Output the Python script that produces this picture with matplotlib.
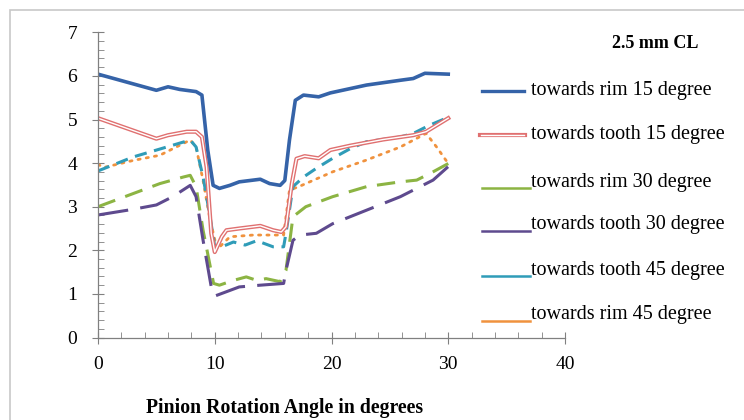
import matplotlib
matplotlib.use("Agg")
import matplotlib.pyplot as plt
from matplotlib.lines import Line2D
from matplotlib.patches import Rectangle
from matplotlib.ticker import MultipleLocator

plt.rcParams['font.family'] = ['Liberation Serif', 'DejaVu Serif']

# towards rim 15 degree
x_rim15 = [0, 5, 6, 7, 8.4, 8.9, 9.4, 9.86, 10.4, 11.3, 12.1, 13.9, 14.7, 15.6, 16.0, 16.4, 16.9, 17.6, 18.9, 19.9, 23, 25.9, 27, 28, 30]
y_rim15 = [6.04, 5.67, 5.75, 5.69, 5.64, 5.56, 4.3, 3.49, 3.42, 3.49, 3.57, 3.63, 3.53, 3.49, 3.6, 4.53, 5.44, 5.56, 5.52, 5.61, 5.79, 5.90, 5.94, 6.06, 6.04]

# towards tooth 15 degree
x_tooth15 = [0, 5, 6, 7.6, 8.4, 8.9, 9.3, 9.7, 10, 10.6, 11, 12.1, 13.9, 15, 15.7, 16.1, 16.6, 17, 17.7, 18.9, 19.9, 21.6, 24.4, 27, 28.1, 30]
y_tooth15 = [5.03, 4.56, 4.64, 4.72, 4.72, 4.6, 3.91, 2.39, 1.96, 2.31, 2.46, 2.5, 2.56, 2.46, 2.42, 2.54, 3.53, 4.1, 4.16, 4.11, 4.3, 4.4, 4.54, 4.64, 4.72, 5.03]

# towards rim 30 degree
x_rim30 = [0, 3, 5.3, 7.3, 7.9, 8.4, 9, 9.9, 10.4, 11.6, 12.7, 13.6, 14.4, 15.6, 16.1, 16.7, 17.8, 20.1, 23, 25.9, 27.3, 28.7, 30]
y_rim30 = [3.0, 3.3, 3.53, 3.68, 3.72, 3.46, 2.46, 1.24, 1.2, 1.31, 1.39, 1.31, 1.35, 1.28, 1.54, 2.77, 3.0, 3.23, 3.46, 3.57, 3.61, 3.8, 3.99]

# towards tooth 30 degree
x_tooth30 = [0, 3, 5, 6.4, 7.9, 8.4, 9, 9.7, 10, 11, 12.1, 13.9, 15.9, 16.1, 16.7, 17.3, 18.7, 20.1, 23, 25.9, 28.7, 30]
y_tooth30 = [2.81, 2.94, 3.04, 3.23, 3.49, 3.23, 2.23, 1.16, 0.95, 1.05, 1.16, 1.2, 1.24, 1.54, 2.23, 2.35, 2.39, 2.61, 2.92, 3.23, 3.61, 3.92]

# towards tooth 45 degree
x_tooth45 = [0, 3, 5.9, 7.9, 8.4, 9, 9.6, 10, 10.6, 11.6, 12.6, 13.6, 15, 15.9, 16.1, 16.7, 17.6, 18.7, 20.1, 21.6, 23, 25.9, 27, 28.4, 30]
y_tooth45 = [3.82, 4.14, 4.37, 4.53, 4.37, 3.68, 2.77, 2.08, 2.08, 2.19, 2.12, 2.22, 2.08, 2.08, 2.39, 3.46, 3.68, 3.88, 4.11, 4.33, 4.49, 4.6, 4.68, 4.87, 5.05]

# towards rim 45 degree
x_rim45 = [0, 0.5, 3, 5.3, 7.9, 8.4, 9, 9.6, 10.2, 11.3, 13.3, 15.9, 16.4, 17.2, 20.1, 23, 25.9, 28.1, 29, 30]
y_rim45 = [3.97, 3.9, 4.06, 4.18, 4.53, 4.37, 3.6, 2.7, 2.02, 2.31, 2.35, 2.35, 3.38, 3.46, 3.8, 4.07, 4.37, 4.68, 4.37, 3.99]

labels = ["towards rim 15 degree", "towards tooth 15 degree", "towards rim 30 degree",
          "towards tooth 30 degree", "towards tooth 45 degree", "towards rim 45 degree"]
title_text = "2.5 mm CL"
xlabel_text = "Pinion Rotation Angle in degrees"

c_blue = "#3563A8"
c_red = "#E07070"
c_green = "#8CB443"
c_purple = "#5E4A8E"
c_cyan = "#2F9CB8"
c_orange = "#F0923E"

fig = plt.figure(figsize=(7.44, 4.20), dpi=100)
fig.patches.append(Rectangle((10/744, -0.1), 1.2, (420-10)/420 + 0.1, transform=fig.transFigure,
                             fill=False, edgecolor="#C8C8C8", linewidth=1.2))

ax = fig.add_axes([98/744, 82.5/420, 467/744, 305.2/420])
ax.plot(x_rim30, y_rim30, color=c_green, lw=2.2, dashes=(6, 3.5))
ax.plot(x_tooth30, y_tooth30, color=c_purple, lw=2.2, dashes=(10, 4))
ax.plot(x_rim45, y_rim45, color=c_orange, lw=2.0, dashes=(0.8, 2.2), dash_capstyle='round')
ax.plot(x_tooth45, y_tooth45, color=c_cyan, lw=2.2, dashes=(4, 2.5))
ax.plot(x_tooth15, y_tooth15, color=c_red, lw=3.0)
ax.plot(x_tooth15, y_tooth15, color="white", lw=1.0)
ax.plot(x_rim15, y_rim15, color=c_blue, lw=2.6)

ax.set_xlim(0, 40)
ax.set_ylim(0, 7)
ax.xaxis.set_major_locator(MultipleLocator(10))
ax.xaxis.set_minor_locator(MultipleLocator(2))
ax.yaxis.set_major_locator(MultipleLocator(1))
ax.yaxis.set_minor_locator(MultipleLocator(0.2))
for s in ["top", "right"]:
    ax.spines[s].set_visible(False)
for s in ["left", "bottom"]:
    ax.spines[s].set_color("#808080")
    ax.spines[s].set_linewidth(0.9)
ax.tick_params(which="major", direction="inout", length=8, color="#808080", labelsize=14)
ax.tick_params(which="minor", direction="in", length=4, color="#808080")
ax.tick_params(axis="x", which="major", pad=9)
ax.tick_params(axis="y", which="major", pad=11)
ax.patch.set_alpha(0)

fig.text(285/744, 1 - 408/420, xlabel_text, ha="center", va="center", fontsize=14.2, fontweight="bold")
fig.text(655/744, 1 - 44/420, title_text, ha="center", va="center", fontsize=13, fontweight="bold")

colors = [c_blue, c_red, c_green, c_purple, c_cyan, c_orange]
ys = [91, 135, 182, 225, 270, 315]
for i, (lab, col, yy) in enumerate(zip(labels, colors, ys)):
    if i == 0:
        fig.add_artist(Line2D([482/744, 524/744], [1 - yy/420] * 2, color=col, lw=2.4))
    elif i == 1:
        fig.add_artist(Line2D([480/744, 525/744], [1 - yy/420] * 2, color=col, lw=3.0))
        fig.add_artist(Line2D([481/744, 524/744], [1 - yy/420] * 2, color="white", lw=1.0))
    else:
        fig.add_artist(Line2D([482/744, 530/744], [1 - (yy + 6)/420] * 2, color=col, lw=1.8))
    fig.text(531/744, 1 - yy/420, lab, ha="left", va="center", fontsize=14.5)

fig.savefig("out.png", dpi=100)
